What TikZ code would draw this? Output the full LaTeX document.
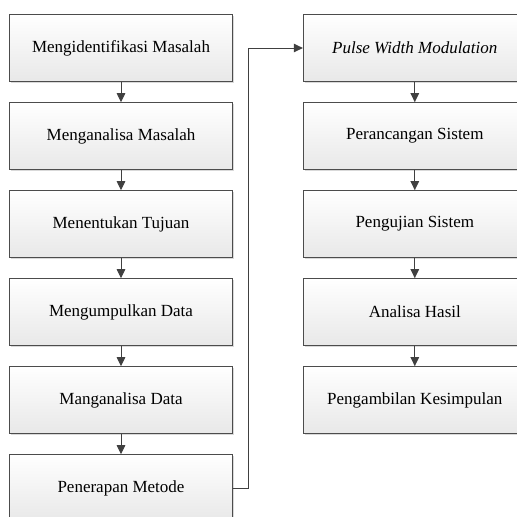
\documentclass[tikz,border=0pt]{standalone}
\usepackage{fontspec}
\setmainfont{Liberation Serif}
\usetikzlibrary{arrows.meta,shadows}
\begin{document}
\begin{tikzpicture}[x=1pt,y=-1pt,
  box/.style={draw=black!70, line width=0.9pt, minimum width=223pt, minimum height=66.7pt,
    top color=white, bottom color=black!9, inner sep=0pt,
    font=\fontsize{17}{20}\selectfont,
    drop shadow={shadow xshift=1.5pt, shadow yshift=-1.5pt, fill=black!15, opacity=1}},
  conn/.style={draw=black!75, line width=1pt, -{Triangle[length=9pt,width=8.5pt]}}]
\useasboundingbox (0,0) rectangle (517,517);
\node[box] (a1) at (121,48) {Mengidentifikasi Masalah};
\node[box] (a2) at (121,136) {Menganalisa Masalah};
\node[box] (a3) at (121,224) {Menentukan Tujuan};
\node[box] (a4) at (121,312) {Mengumpulkan Data};
\node[box] (a5) at (121,400) {Manganalisa Data};
\node[box] (a6) at (121,488) {Penerapan Metode};
\node[box] (b1) at (414.8,48) {\itshape Pulse Width Modulation};
\node[box] (b2) at (414.8,136) {Perancangan Sistem};
\node[box] (b3) at (414.8,224) {Pengujian Sistem};
\node[box] (b4) at (414.8,312) {Analisa Hasil};
\node[box] (b5) at (414.8,400) {Pengambilan Kesimpulan};
\foreach \u/\v in {a1/a2,a2/a3,a3/a4,a4/a5,a5/a6,b1/b2,b2/b3,b3/b4,b4/b5}
  \draw[conn] (\u.south) -- (\v.north);
\coordinate (t) at (248,488);
\draw[conn] (a6.east) -- (t) |- (b1.west);
\end{tikzpicture}
\end{document}
